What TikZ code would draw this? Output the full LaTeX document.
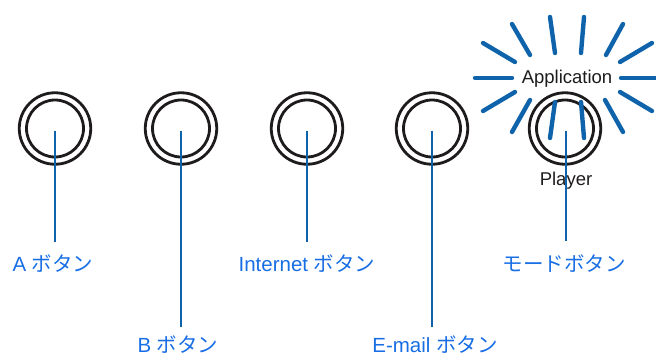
\documentclass[tikz,border=0pt]{standalone}
\usepackage{fontspec}
\setmainfont{Liberation Sans}
\newfontfamily\jp{Noto Sans CJK JP}
\definecolor{lineblue}{RGB}{14,99,171}
\definecolor{textblue}{RGB}{24,110,228}
\definecolor{ringblack}{RGB}{30,27,28}
\begin{document}
\begin{tikzpicture}[x=1pt,y=-1pt,
  outerring/.style={circle,draw=ringblack,line width=2.8pt,minimum size=71.5pt,inner sep=0pt},
  innerring/.style={circle,draw=ringblack,line width=2.8pt,minimum size=57pt,inner sep=0pt},
  leader/.style={draw=lineblue,line width=1.6pt},
  lab/.style={text=textblue,font=\fontsize{20.5}{24}\selectfont,anchor=base,inner sep=0pt},
  apptext/.style={text=ringblack,font=\fontsize{18.5}{22}\selectfont,anchor=base,inner sep=0pt},
  ray/.style={draw=lineblue,line width=4.4pt,line cap=round}]
\useasboundingbox (0,0) rectangle (656,356);
% buttons
\foreach \n/\x in {a/55,b/181,i/307,e/432,m/565}{
  \node[outerring] (\n o) at (\x,128.5) {};
  \node[innerring] (\n i) at (\x,128.5) {};
  \coordinate (\n s) at (\x,130.5);
}
% labels
\node[lab] (la) at (53,271) {A {\jp ボタン}};
\node[lab] (lb) at (178,352) {B {\jp ボタン}};
\node[lab] (li) at (307,271) {Internet {\jp ボタン}};
\node[lab] (le) at (435,352) {E-mail {\jp ボタン}};
\node[lab] (lm) at (564,271) {{\jp モードボタン}};
% leader ends
\coordinate (ea) at (55,242);
\coordinate (eb) at (181,327);
\coordinate (ei) at (307,242);
\coordinate (ee) at (432,327);
\coordinate (em) at (566,241);
% application player text
\node[apptext] (app) at (567,83) {Application};
\node[apptext] (pla) at (566,185) {Player};
% leaders
\draw[leader] (as) -- (ea);
\draw[leader] (bs) -- (eb);
\draw[leader] (is) -- (ei);
\draw[leader] (es) -- (ee);
\draw[leader] (566,130.5) -- (em);
% rays
\draw[ray] (475,78) -- (512,78);
\draw[ray] (621,78) -- (660,78);
\draw[ray] (550,17) -- (555,53);
\draw[ray] (584,17) -- (581,53);
\draw[ray] (512,24) -- (530,55);
\draw[ray] (623,24) -- (606,55);
\draw[ray] (483,43) -- (515,62);
\draw[ray] (652,43) -- (620,62);
\draw[ray] (483,111) -- (515,92);
\draw[ray] (652,111) -- (620,92);
\draw[ray] (512,132) -- (530,100);
\draw[ray] (623,132) -- (605,100);
\draw[ray] (550,138) -- (555,102);
\draw[ray] (584,138) -- (581,102);
\end{tikzpicture}
\end{document}
